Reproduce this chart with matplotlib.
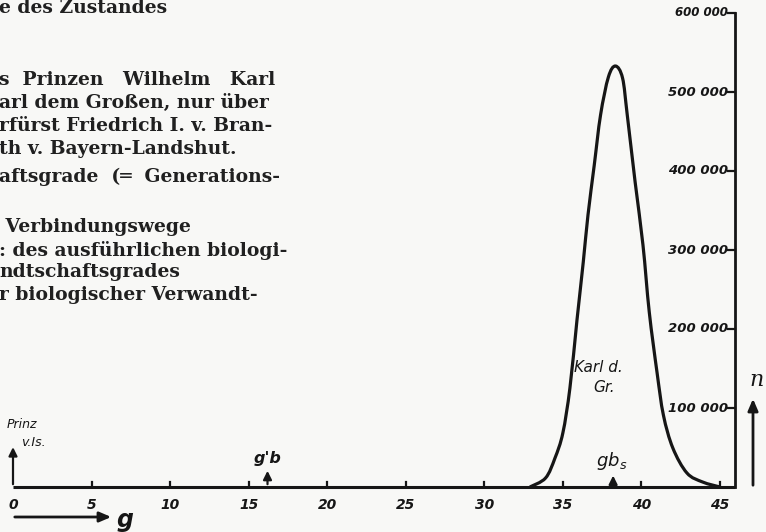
import matplotlib
matplotlib.use("Agg")
import matplotlib.pyplot as plt
from matplotlib.path import Path
from matplotlib.patches import PathPatch

# ---- data ----
g_vals = [32.9, 33.9, 34.5, 35.0, 35.45, 35.9, 36.3, 36.6, 37.0, 37.4, 37.9, 38.35,
          38.8, 39.1, 39.6, 40.1, 40.5, 41.0, 41.4, 42.0, 42.9, 43.9, 45.0]
n_vals = [0, 11400, 36700, 68400, 125300, 211400, 284800, 344300, 407600, 470900,
          519000, 532900, 517700, 470900, 386100, 306300, 221500, 144300, 91100,
          49400, 17700, 6300, 0]
x_ticks = [0, 5, 10, 15, 20, 25, 30, 35, 40, 45]
y_ticks = [100000, 200000, 300000, 400000, 500000, 600000]
y_tick_labels = ["100 000", "200 000", "300 000", "400 000", "500 000", "600 000"]
g_axis_end = 45.96
marker_gb = 16.2     # g'b
marker_gbs = 38.2    # gbs

body_lines = [
    ("e des Zustandes", 8),
    ("s  Prinzen   Wilhelm   Karl", 80),
    ("arl dem Großen, nur über", 103),
    ("rfürst Friedrich I. v. Bran-", 126),
    ("th v. Bayern-Landshut.", 149),
    ("aftsgrade  (═  Generations-", 177),
    (" Verbindungswege", 227),
    (": des ausführlichen biologi-", 250),
    ("ndtschaftsgrades", 272),
    ("r biologischer Verwandt-", 295),
]

W, H = 766, 532
fig = plt.figure(figsize=(W / 100, H / 100), dpi=100)
paper = "#f8f8f6"
ink = "#161616"
fig.patch.set_facecolor(paper)
ax = fig.add_axes([0, 0, 1, 1])
ax.set_facecolor(paper)
ax.axis("off")

# pixel mapping: g=0 at x=13px, 15.71 px/unit; n=0 at y=487px, 79 px per 100000
x0, sx = 13.0, 15.71
y0, sy = 487.0, 79.0 / 100000
ax.set_xlim((0 - x0) / sx, (W - x0) / sx)
ax.set_ylim((y0 - H) / sy, y0 / sy)

def px(x, y):
    return (x - x0) / sx, (y0 - y) / sy

hand = dict(fontstyle="italic", fontweight="bold", family="DejaVu Sans", color=ink)

# baseline and right axis
ax.plot([0, g_axis_end], [0, 0], color=ink, lw=2.2, solid_capstyle="butt")
ax.plot([g_axis_end, g_axis_end], [0, y_ticks[-1]], color=ink, lw=2.0)
for t in x_ticks[1:]:
    ax.plot([t, t], [0, 6500], color=ink, lw=1.6)
    ax.text(t, -23000, str(t), ha="center", va="center", fontsize=10, **hand)
ax.text(0, -23000, "0", ha="center", va="center", fontsize=10, **hand)
for v, lab in zip(y_ticks, y_tick_labels):
    ax.plot([g_axis_end - 0.42, g_axis_end], [v, v], color=ink, lw=1.6)
    ax.text(g_axis_end - 0.45, v, lab, ha="right", va="center",
            fontsize=9.5 if v < 600000 else 8.5, **hand)

# smooth curve through the read points (Catmull-Rom rendered as cubic Beziers)
verts = [(g_vals[0], n_vals[0])]
codes = [Path.MOVETO]
P = list(zip(g_vals, n_vals))
for i in range(len(P) - 1):
    p0 = P[i - 1] if i > 0 else P[i]
    p1, p2 = P[i], P[i + 1]
    p3 = P[i + 2] if i + 2 < len(P) else P[i + 1]
    c1 = (p1[0] + (p2[0] - p0[0]) / 6, p1[1] + (p2[1] - p0[1]) / 6)
    c2 = (p2[0] - (p3[0] - p1[0]) / 6, p2[1] - (p3[1] - p1[1]) / 6)
    verts += [c1, c2, p2]
    codes += [Path.CURVE4] * 3
ax.add_patch(PathPatch(Path(verts, codes), facecolor="none", edgecolor=ink,
                       lw=2.3, joinstyle="round"))

arrow = dict(arrowstyle="-|>,head_length=0.5,head_width=0.25", color=ink, lw=1.6)
# Prinz v. Is. arrow
ax.annotate("", xy=(0, 54000), xytext=(0, 0), arrowprops=arrow)
ax.text(*px(7, 424), "Prinz", ha="left", va="center", fontsize=9,
        fontstyle="italic", family="DejaVu Sans", color=ink)
ax.text(*px(21, 442), "v.Is.", ha="left", va="center", fontsize=9,
        fontstyle="italic", family="DejaVu Sans", color=ink)
# g'b
ax.annotate("", xy=(marker_gb, 24000), xytext=(marker_gb, 0), arrowprops=arrow)
ax.text(*px(268, 458), "g'b", ha="center", va="center", fontsize=11.5, **hand)
# gbs
ax.annotate("", xy=(marker_gbs, 18000), xytext=(marker_gbs, 0), arrowprops=arrow)
ax.text(*px(612, 461), r"$\mathbf{\mathit{gb}}_{\mathbf{\mathit{s}}}$", ha="center",
        va="center", fontsize=13, color=ink)
# Karl d. Gr.
ax.text(*px(598, 368), "Karl d.", ha="center", va="center", fontsize=11,
        fontstyle="italic", family="DejaVu Sans", color=ink)
ax.text(*px(604, 387), "Gr.", ha="center", va="center", fontsize=11,
        fontstyle="italic", family="DejaVu Sans", color=ink)
# n arrow
big_arrow = dict(arrowstyle="-|>,head_length=0.7,head_width=0.3", color=ink, lw=2.0)
ax.annotate("", xy=px(753, 396), xytext=px(753, 488), arrowprops=big_arrow)
ax.text(*px(757, 380), "n", ha="center", va="center", fontsize=16,
        fontstyle="italic", family="DejaVu Serif", color=ink)
# g arrow
ax.annotate("", xy=px(114, 517), xytext=px(12, 517), arrowprops=big_arrow)
ax.text(*px(125, 520), "g", ha="center", va="center", fontsize=17, **hand)

# body text on the left (page fragment)
for txt, y in body_lines:
    fig.text(-1 / W, 1 - y / H, txt, ha="left", va="center", fontsize=13.5,
             family="DejaVu Serif", fontweight="bold", color="#202020")

fig.savefig("out.png", dpi=100, facecolor=paper)
